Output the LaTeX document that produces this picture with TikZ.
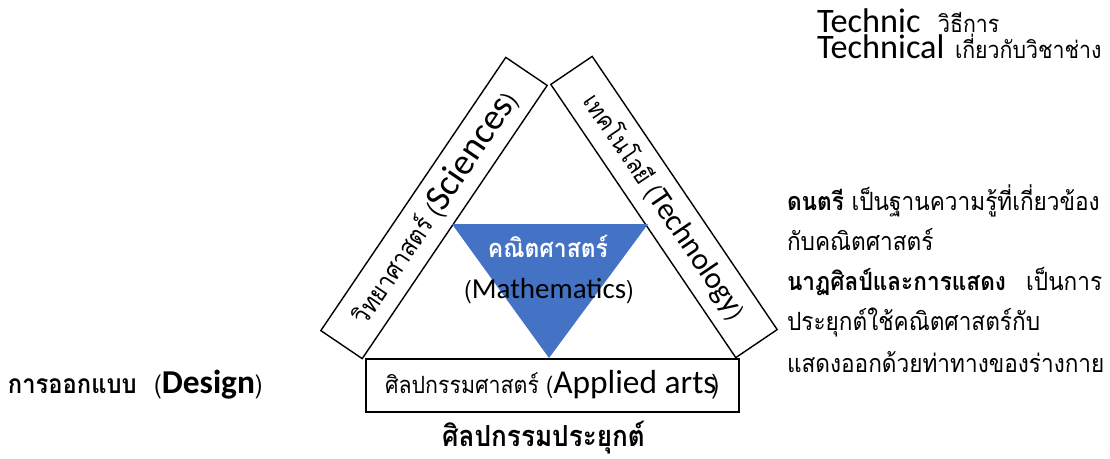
\documentclass[tikz,border=0pt]{standalone}
\usepackage{fontspec}
\setmainfont{Carlito}
\newfontfamily\thai[Script=Thai, FakeStretch=0.9]{Loma}
\definecolor{triblue}{HTML}{4472C4}
\newcommand\fs[1]{\fontsize{#1}{#1}\selectfont}
\tikzset{
  every node/.style={inner sep=0pt, outer sep=0pt},
  box/.style={draw, line width=0.8pt, fill=white},
  lbl/.style={anchor=base west},
}
\begin{document}
\begin{tikzpicture}[x=0.02cm,y=-0.02cm]
\useasboundingbox (0,0) rectangle (1110,458);
% side bars
\node[box, minimum width=6.6cm, minimum height=1cm, rotate=55.9] (sci) at (434,208)
  {{\thai\fs{14.5}วิทยาศาสตร์ (}{\fs{21}Sciences}{\thai\fs{14})}};
\node[box, minimum width=6.6cm, minimum height=1cm, rotate=-55.9] (tech) at (664,207)
  {{\thai\fs{14}เทคโนโลยี (}{\fs{17.5}Technology}{\thai\fs{14})}};
% bottom box
\node[box, minimum width=7.46cm, minimum height=1.06cm] (arts) at (552.5,385.5) {};
\node[lbl] (artst) at (385,393) {{\thai\fs{13.5}ศิลปกรรมศาสตร์ (}{\fs{19}Applied arts}\kern-0.3em{\thai\fs{15})}};
% triangle
\coordinate (ta) at (452,224);
\coordinate (tb) at (648,224);
\coordinate (tc) at (549,358);
\fill[triblue] (ta) -- (tb) -- (tc) -- cycle;
\node[anchor=base, text=white] (matht) at (548,257) {\thai\bfseries\fs{14.5}คณิตศาสตร์};
\node[anchor=base] (mathe) at (549,298) {{\thai\fs{14}(}{\fs{16.5}Mathematics}{\thai\fs{14})}};
% labels
\node[anchor=base] (applied) at (543.5,446) {\thai\bfseries\fs{16.5}ศิลปกรรมประยุกต์};
\node[lbl] (design) at (8,393) {{\thai\bfseries\fs{15}การออกแบบ}\hspace{1em}{\thai\fs{14.5}(}{\bfseries\fs{19}Design}{\thai\fs{14.5})}};
\node[lbl] (tc1) at (817,32) {\fs{19.5}Technic};
\node[lbl] (tc1t) at (938,32) {\thai\fs{13.5}วิธีการ};
\node[lbl] (tc2) at (817,58) {\fs{19.5}Technical};
\node[lbl] (tc2t) at (955,58) {\thai\fs{13.5}เกี่ยวกับวิชาช่าง};
% right paragraph
\node[lbl] (r1) at (787,210) {\thai\fs{14.3}{\bfseries ดนตรี} เป็นฐานความรู้ที่เกี่ยวข้อง};
\node[lbl] (r2) at (787,250) {\thai\fs{14.3}กับคณิตศาสตร์};
\node[lbl] (r3) at (787,290) {\thai\fs{14.3}{\bfseries นาฏศิลป์และการแสดง}\hspace{0.5em} เป็นการ};
\node[lbl] (r4) at (787,330) {\thai\fs{14.3}ประยุกต์ใช้คณิตศาสตร์กับ};
\node[lbl] (r5) at (787,372) {\thai\fs{14.3}แสดงออกด้วยท่าทางของร่างกาย};
\end{tikzpicture}
\end{document}
